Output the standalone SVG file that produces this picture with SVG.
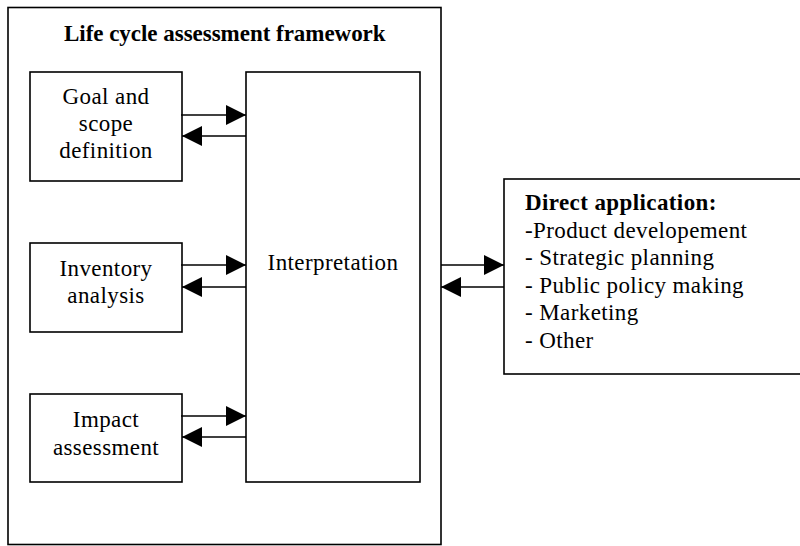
<svg xmlns="http://www.w3.org/2000/svg" width="800" height="546" viewBox="0 0 800 546">
  <style>
    .box { fill: #fff; stroke: #000; stroke-width: 1.6; }
    .lbl { font-family: "Liberation Serif", "Times New Roman", serif; font-size: 23px; letter-spacing: 0.4px; fill: #000; }
    .mid { text-anchor: middle; }
    .bold { font-weight: bold; }
    .conn { stroke: #000; stroke-width: 1.6; fill: none; marker-end: url(#head); }
  </style>
  <defs>
    <marker id="head" markerUnits="userSpaceOnUse" markerWidth="20" markerHeight="20" viewBox="0 0 19 19" refX="19" refY="9.5" orient="auto">
      <path d="M0,0 L19,9.5 L0,19 Z" fill="#000"/>
    </marker>
  </defs>
  <rect width="800" height="546" fill="#fff"/>

  <g id="framework">
    <rect class="box" x="8" y="7.5" width="433" height="537"/>
    <text class="lbl bold mid" x="225" y="41" textLength="322">Life cycle assessment framework</text>
  </g>

  <g id="goal">
    <rect class="box" x="30" y="72" width="152" height="109"/>
    <text class="lbl mid" x="106" y="104">Goal and</text>
    <text class="lbl mid" x="106" y="131">scope</text>
    <text class="lbl mid" x="106" y="158">definition</text>
  </g>

  <g id="inventory">
    <rect class="box" x="30" y="243" width="152" height="89"/>
    <text class="lbl mid" x="106" y="276">Inventory</text>
    <text class="lbl mid" x="106" y="303">analysis</text>
  </g>

  <g id="impact">
    <rect class="box" x="30" y="394" width="152" height="88"/>
    <text class="lbl mid" x="106" y="427">Impact</text>
    <text class="lbl mid" x="106" y="455">assessment</text>
  </g>

  <g id="interpretation">
    <rect class="box" x="246" y="72" width="174" height="410"/>
    <text class="lbl mid" x="333" y="270">Interpretation</text>
  </g>

  <g id="application">
    <rect class="box" x="504" y="179" width="300" height="195"/>
    <text class="lbl bold" x="525" y="210">Direct application:</text>
    <text class="lbl" x="525" y="238">-Product developement</text>
    <text class="lbl" x="525" y="265">- Strategic planning</text>
    <text class="lbl" x="525" y="293">- Public policy making</text>
    <text class="lbl" x="525" y="320">- Marketing</text>
    <text class="lbl" x="525" y="348">- Other</text>
  </g>

  <g id="connectors">
    <line class="conn" x1="181" y1="115" x2="246" y2="115"/>
    <line class="conn" x1="246" y1="136" x2="182" y2="136"/>
    <line class="conn" x1="181" y1="265" x2="246" y2="265"/>
    <line class="conn" x1="246" y1="287" x2="182" y2="287"/>
    <line class="conn" x1="181" y1="416" x2="246" y2="416"/>
    <line class="conn" x1="246" y1="437" x2="182" y2="437"/>
    <line class="conn" x1="441" y1="265" x2="504" y2="265"/>
    <line class="conn" x1="504" y1="287" x2="441" y2="287"/>
  </g>
</svg>
